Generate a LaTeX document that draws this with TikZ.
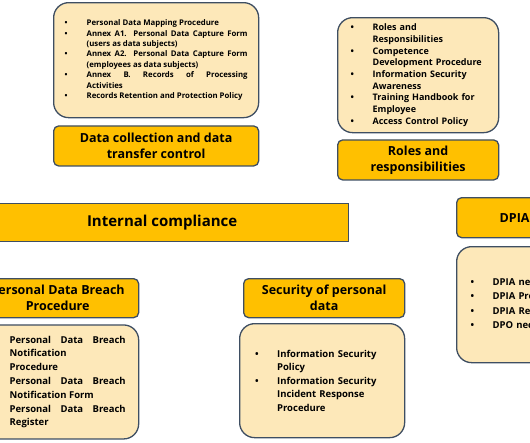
\documentclass[tikz,border=0pt]{standalone}
\usepackage{fontspec}
\setmainfont{Open Sans}
\usepackage{tikz}
\usetikzlibrary{positioning}
\definecolor{gold}{RGB}{255,192,0}
\definecolor{goldpale}{RGB}{253,232,185}
\definecolor{slate}{RGB}{62,78,98}
% one bullet line with hanging indent
\newcommand{\bulitem}[2]{\noindent\hangindent=#1\hangafter=1\makebox[#1][l]{\textbullet}#2\par}

\begin{document}
\begin{tikzpicture}[x=1pt,y=-1pt,every node/.style={inner sep=0pt,font=\bfseries},
  head/.style={draw=slate,line width=1.3pt,fill=gold,rounded corners=5pt,align=center,font=\fontsize{12.5}{16}\selectfont\bfseries},
  listbox/.style={draw=slate,line width=1.3pt,fill=goldpale,rounded corners=15pt}]
  \useasboundingbox (0,0) rectangle (530,442);
  \clip (0,0) rectangle (530,442);

  % top left
  \node[listbox,anchor=north west,minimum width=205pt,minimum height=115pt,text width=183pt,align=justify,
    font=\fontsize{7.8}{10.4}\selectfont\bfseries] (mapbox) at (53,2) {
    \bulitem{22pt}{Personal Data Mapping Procedure}
    \bulitem{22pt}{Annex A1. Personal Data Capture Form\linebreak (users as data subjects)}
    \bulitem{22pt}{Annex A2. Personal Data Capture Form\linebreak (employees as data subjects)}
    \bulitem{22pt}{Annex B. Records of Processing\linebreak Activities}
    \bulitem{22pt}{Records Retention and Protection Policy}
  };
  \node[head,below=7pt of mapbox,minimum width=205pt,minimum height=40pt] (collect) {Data collection and data\\transfer control};

  % top right
  \node[listbox,anchor=north west,minimum width=161pt,minimum height=115pt,text width=135pt,align=left,
    font=\fontsize{9}{11.7}\selectfont\bfseries] (rolesbox) at (337,17) {
    \bulitem{22pt}{Roles and\linebreak Responsibilities}
    \bulitem{22pt}{Competence\linebreak Development Procedure}
    \bulitem{22pt}{Information Security\linebreak Awareness}
    \bulitem{22pt}{Training Handbook for\linebreak Employee}
    \bulitem{22pt}{Access Control Policy}
  };
  \node[head,below=6pt of rolesbox,minimum width=161pt,minimum height=40pt] (roles) {Roles and\\responsibilities};

  % middle bar
  \node[draw=slate,line width=1.3pt,fill=gold,anchor=north west,minimum width=373pt,minimum height=38pt,
    font=\fontsize{15}{18}\selectfont\bfseries] (internal) at (-25,203) {Internal compliance};

  % right
  \node[head,anchor=north west,minimum width=116pt,minimum height=40pt] (dpia) at (456,197) {DPIA};
  \node[listbox,anchor=north west,minimum width=200pt,minimum height=116pt,text width=172pt,align=left,
    font=\fontsize{9.5}{14.5}\selectfont\bfseries] (dpiabox) at (456,246) {
    \bulitem{22pt}{DPIA necessity}
    \bulitem{22pt}{DPIA Procedure}
    \bulitem{22pt}{DPIA Report}
    \bulitem{22pt}{DPO necessity}
  };

  % bottom left
  \node[head,anchor=north west,minimum width=162pt,minimum height=39pt] (breach) at (-24,278) {Personal Data Breach\\Procedure};
  \node[listbox,below=6pt of breach,minimum width=162pt,minimum height=114pt,text width=136pt,align=justify,
    font=\fontsize{9.5}{13.8}\selectfont\bfseries] (breachbox) {
    \bulitem{20pt}{Personal Data Breach\linebreak Notification\linebreak Procedure}
    \bulitem{20pt}{Personal Data Breach\linebreak Notification Form}
    \bulitem{20pt}{Personal Data Breach\linebreak Register}
  };

  % bottom middle
  \node[head,anchor=north west,minimum width=161pt,minimum height=39pt] (security) at (243,278) {Security of personal\\data};
  \node[listbox,anchor=north west,minimum width=165pt,minimum height=114pt,text width=134pt,align=left,
    font=\fontsize{9.5}{13.6}\selectfont\bfseries] (securitybox) at (239,323) {
    \bulitem{22pt}{Information Security\linebreak Policy}
    \bulitem{22pt}{Information Security\linebreak Incident Response\linebreak Procedure}
  };
\end{tikzpicture}
\end{document}
